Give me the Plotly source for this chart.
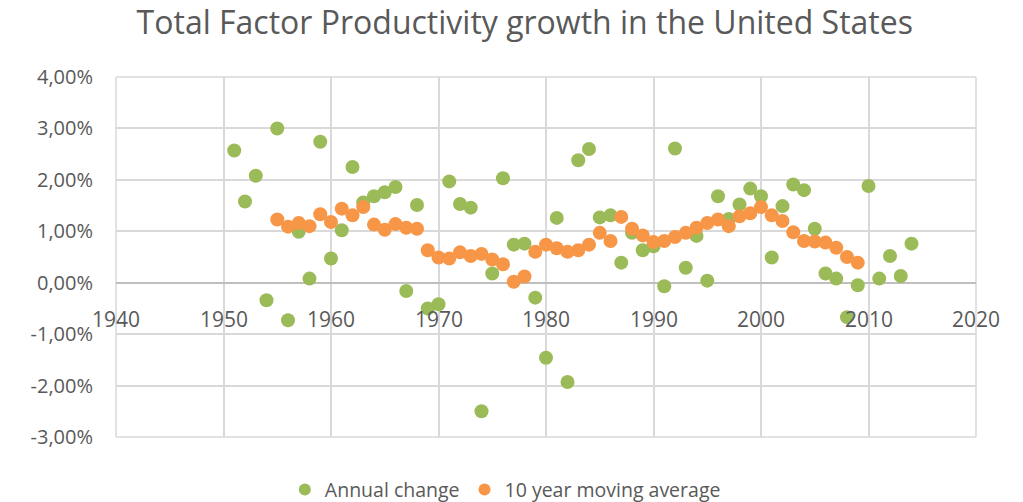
import plotly.graph_objects as go

# Annual TFP growth (fraction) by year
annual_years = list(range(1951, 2015))
annual_change = [
    0.0257, 0.0158, 0.0208, -0.0034, 0.0300, -0.0073, 0.0099, 0.0008, 0.0274, 0.0047,
    0.0102, 0.0225, 0.0156, 0.0168, 0.0176, 0.0186, -0.0016, 0.0151, -0.0050, -0.0042,
    0.0197, 0.0153, 0.0146, -0.0250, 0.0018, 0.0203, 0.0074, 0.0076, -0.0029, -0.0146,
    0.0126, -0.0193, 0.0238, 0.0260, 0.0127, 0.0131, 0.0039, 0.0097, 0.0063, 0.0071,
    -0.0007, 0.0261, 0.0029, 0.0091, 0.0004, 0.0168, 0.0124, 0.0152, 0.0183, 0.0168,
    0.0049, 0.0149, 0.0191, 0.0180, 0.0105, 0.0018, 0.0008, -0.0067, -0.0005, 0.0188,
    0.0008, 0.0052, 0.0013, 0.0076,
]

# 10-year moving average (fraction) by year
ma_years = list(range(1955, 2010))
moving_avg = [
    0.0123, 0.0109, 0.0116, 0.0110, 0.0133, 0.0118, 0.0144, 0.0131, 0.0147, 0.0113,
    0.0103, 0.0114, 0.0107, 0.0105, 0.0063, 0.0049, 0.0047, 0.0059, 0.0052, 0.0056,
    0.0045, 0.0036, 0.0002, 0.0012, 0.0060, 0.0074, 0.0067, 0.0060, 0.0063, 0.0074,
    0.0097, 0.0081, 0.0128, 0.0105, 0.0092, 0.0079, 0.0081, 0.0089, 0.0097, 0.0107,
    0.0116, 0.0123, 0.0110, 0.0129, 0.0135, 0.0147, 0.0131, 0.0120, 0.0098, 0.0081,
    0.0080, 0.0078, 0.0068, 0.0050, 0.0039,
]

x_ticks = [1940, 1950, 1960, 1970, 1980, 1990, 2000, 2010, 2020]
y_ticks = [-0.03, -0.02, -0.01, 0.0, 0.01, 0.02, 0.03, 0.04]
y_labels = ["-3,00%", "-2,00%", "-1,00%", "0,00%", "1,00%", "2,00%", "3,00%", "4,00%"]

GREEN = "#9BBB59"
ORANGE = "#F79646"
TEXT = "#595959"
GRID = "#D9D9D9"
AXIS = "#BFBFBF"
FONT = "Open Sans, sans-serif"

fig = go.Figure()
fig.add_trace(go.Scatter(
    x=annual_years, y=annual_change, mode="markers", name="Annual change",
    marker=dict(color=GREEN, size=14, line=dict(width=0)),
))
fig.add_trace(go.Scatter(
    x=ma_years, y=moving_avg, mode="markers", name="10 year moving average",
    marker=dict(color=ORANGE, size=14, line=dict(width=0)),
))

y_min, y_max = -0.03, 0.04

fig.update_layout(
    width=1023, height=502,
    margin=dict(l=116, r=47, t=77, b=65, autoexpand=False),
    paper_bgcolor="white", plot_bgcolor="white",
    font=dict(family=FONT, color=TEXT, size=18),
    title=dict(
        text="Total Factor Productivity growth in the United States",
        x=0.513, xanchor="center", y=0.955, yanchor="middle",
        font=dict(family=FONT, size=32, color=TEXT),
    ),
    xaxis=dict(
        range=[1940, 2020], tickvals=x_ticks,
        showgrid=True, gridcolor=GRID, gridwidth=1.5,
        zeroline=False, showline=False, showticklabels=False,
    ),
    yaxis=dict(
        range=[y_min, y_max], tickvals=y_ticks, ticktext=y_labels,
        showgrid=True, gridcolor=GRID, gridwidth=1.5,
        zeroline=True, zerolinecolor=AXIS, zerolinewidth=1.5,
        showline=False, ticklabelstandoff=22,
        tickfont=dict(size=20, color=TEXT),
    ),
    legend=dict(
        orientation="h", xref="container", x=0.494, xanchor="center",
        y=-0.147, yanchor="middle",
        font=dict(size=19.5, color=TEXT), itemsizing="constant",
        itemwidth=30, tracegroupgap=0,
    ),
    showlegend=True,
)

# Year labels sit just under the 0 % line, where the category axis crosses
for yr in x_ticks:
    fig.add_annotation(
        x=yr, y=0, xref="x", yref="y", text=str(yr), showarrow=False,
        yanchor="top", yshift=-20, font=dict(size=21, color=TEXT, family=FONT),
    )

# Close the frame on all four edges
for x0, x1, y0, y1 in [(0, 0, 0, 1), (1, 1, 0, 1), (0, 1, 0, 0), (0, 1, 1, 1)]:
    fig.add_shape(type="line", xref="paper", yref="paper", x0=x0, x1=x1, y0=y0, y1=y1,
                  line=dict(color=GRID, width=1.5), layer="below")

fig.write_html("out.html")
